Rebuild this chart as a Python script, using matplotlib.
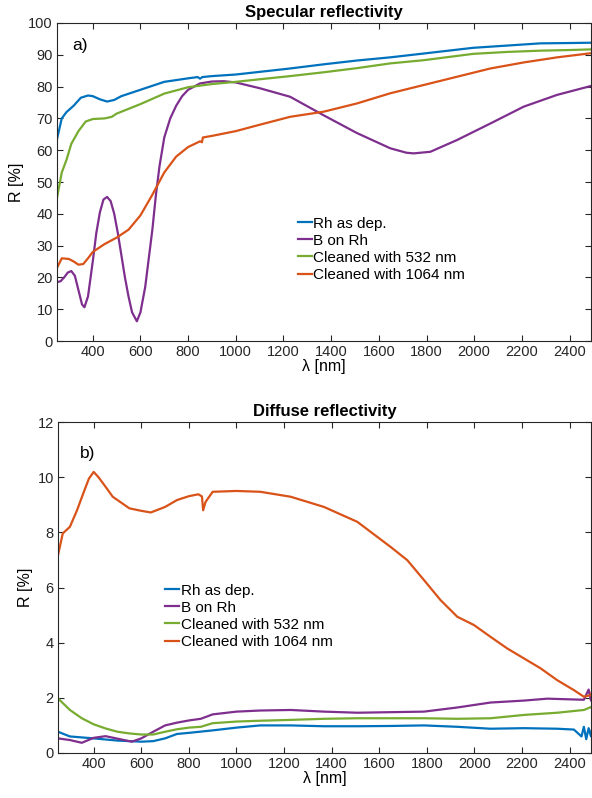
import numpy as np
import matplotlib.pyplot as plt

plt.rcParams['font.family'] = ['Liberation Sans', 'DejaVu Sans']

# MATLAB default colours
C_RH = '#0072BD'
C_B = '#7E2F8E'
C_532 = '#77AC30'
C_1064 = '#D95319'

labels = ["Rh as dep.", "B on Rh", "Cleaned with 532 nm", "Cleaned with 1064 nm"]

# --- specular reflectivity (%) ---
spec_rh_wl = [250, 270, 290, 320, 350, 380, 400, 430, 460, 490, 520, 600, 700, 800,
              840, 850, 860, 900, 1000, 1228, 1368, 1508, 1648, 1788, 1996, 2138, 2278, 2400, 2490]
spec_rh = [63.5, 70, 72, 74, 76.5, 77.2, 77, 76, 75.3, 75.8, 77, 79, 81.5, 82.6,
           83, 82.5, 83, 83.3, 83.8, 85.7, 87, 88.2, 89.2, 90.4, 92.2, 92.9, 93.6, 93.7, 93.8]

spec_b_wl = [250, 265, 280, 295, 310, 325, 340, 355, 365, 380, 400, 415, 430, 445, 460, 475,
             490, 505, 520, 535, 550, 565, 585, 600, 620, 635, 650, 665, 680, 700, 725, 750,
             775, 800, 850, 900, 950, 1000, 1100, 1228, 1368, 1508, 1648, 1716, 1746, 1816,
             1928, 2068, 2208, 2348, 2490]
spec_b = [18.5, 18.8, 20, 21.5, 22, 20.5, 16, 11.5, 10.6, 14, 25, 34, 40.5, 44.5, 45.3, 44,
          40, 34, 27, 20, 14, 9, 6.2, 9, 17, 26, 35, 46, 55, 64, 70, 74,
          77, 79, 81, 81.6, 81.7, 81.3, 79.5, 76.8, 71, 65.4, 60.6, 59.2, 59, 59.5,
          63.2, 68.4, 73.7, 77.4, 80.2]

spec_532_wl = [250, 270, 290, 310, 340, 370, 400, 450, 480, 500, 600, 700, 800, 900,
               1000, 1100, 1228, 1368, 1508, 1648, 1788, 1996, 2138, 2278, 2400, 2490]
spec_532 = [45, 53, 57, 62, 66, 69, 69.8, 70, 70.5, 71.5, 74.5, 77.8, 79.8, 80.8,
            81.5, 82.3, 83.3, 84.5, 85.8, 87.3, 88.3, 90.3, 90.9, 91.3, 91.5, 91.7]

spec_1064_wl = [250, 270, 300, 320, 340, 360, 380, 400, 450, 500, 550, 600, 650, 700,
                750, 800, 850, 858, 862, 900, 1000, 1100, 1228, 1368, 1508, 1648, 1788,
                1928, 2068, 2208, 2348, 2490]
spec_1064 = [23, 26, 25.8, 25, 24, 24.2, 26, 28, 30.5, 32.5, 35, 39.5, 46, 53,
             58, 61, 62.8, 62.5, 64, 64.5, 66, 68, 70.5, 72.1, 74.7, 77.9, 80.5,
             83.1, 85.7, 87.6, 89.2, 90.5]

# --- diffuse reflectivity (%) ---
dif_rh_wl = [250, 300, 400, 500, 600, 650, 700, 750, 800, 900, 1000, 1100, 1228, 1368,
             1508, 1648, 1788, 1928, 2068, 2208, 2348, 2418, 2450, 2460, 2470, 2480, 2490, 2500]
dif_rh = [0.77, 0.6, 0.53, 0.45, 0.41, 0.43, 0.53, 0.69, 0.73, 0.82, 0.92, 1.0, 1.0, 0.97,
          0.97, 0.98, 1.0, 0.95, 0.88, 0.9, 0.88, 0.85, 0.6, 0.95, 0.5, 0.9, 0.6, 1.2]

dif_b_wl = [250, 300, 350, 400, 450, 500, 560, 600, 650, 700, 750, 800, 850, 900, 1000,
            1100, 1228, 1368, 1508, 1648, 1788, 1928, 2068, 2208, 2306, 2460, 2480, 2490, 2500]
dif_b = [0.53, 0.47, 0.37, 0.55, 0.61, 0.52, 0.41, 0.53, 0.77, 1.0, 1.1, 1.18, 1.24, 1.4, 1.5,
         1.54, 1.56, 1.5, 1.46, 1.48, 1.5, 1.65, 1.83, 1.9, 1.97, 1.93, 2.3, 1.9, 2.4]

dif_532_wl = [250, 300, 350, 400, 450, 500, 550, 600, 650, 700, 750, 800, 850, 900, 1000,
              1100, 1228, 1368, 1508, 1648, 1788, 1928, 2068, 2208, 2348, 2460, 2500]
dif_532 = [1.98, 1.56, 1.26, 1.04, 0.89, 0.77, 0.71, 0.67, 0.67, 0.77, 0.86, 0.92, 0.95, 1.08, 1.14,
           1.17, 1.2, 1.24, 1.26, 1.26, 1.26, 1.24, 1.26, 1.38, 1.46, 1.56, 1.7]

dif_1064_wl = [250, 270, 300, 330, 360, 380, 400, 420, 450, 480, 500, 520, 550, 600, 640,
               700, 750, 800, 840, 855, 860, 870, 900, 1000, 1100, 1228, 1368, 1508, 1648,
               1718, 1788, 1858, 1928, 1998, 2068, 2138, 2208, 2278, 2348, 2418, 2460, 2490, 2500]
dif_1064 = [7.17, 7.96, 8.2, 8.8, 9.5, 9.95, 10.19, 10.0, 9.65, 9.29, 9.17, 9.05, 8.87, 8.78, 8.72,
            8.92, 9.17, 9.31, 9.38, 9.3, 8.8, 9.1, 9.47, 9.5, 9.47, 9.29, 8.92, 8.38, 7.47,
            6.99, 6.27, 5.54, 4.94, 4.64, 4.21, 3.79, 3.43, 3.07, 2.64, 2.28, 2.04, 2.1, 2.4]

fig = plt.figure(figsize=(5.92, 7.98), dpi=100)
ax1 = fig.add_axes([57 / 592, 1 - 341 / 798, 534 / 592, 318 / 798])
ax2 = fig.add_axes([58 / 592, 1 - 753 / 798, 533 / 592, 331 / 798])

lw = 1.6
ax1.plot(spec_rh_wl, spec_rh, color=C_RH, lw=lw, label=labels[0])
ax1.plot(spec_b_wl, spec_b, color=C_B, lw=lw, label=labels[1])
ax1.plot(spec_532_wl, spec_532, color=C_532, lw=lw, label=labels[2])
ax1.plot(spec_1064_wl, spec_1064, color=C_1064, lw=lw, label=labels[3])

ax2.plot(dif_rh_wl, dif_rh, color=C_RH, lw=lw, label=labels[0])
ax2.plot(dif_b_wl, dif_b, color=C_B, lw=lw, label=labels[1])
ax2.plot(dif_532_wl, dif_532, color=C_532, lw=lw, label=labels[2])
ax2.plot(dif_1064_wl, dif_1064, color=C_1064, lw=lw, label=labels[3])

for ax, ymax, ystep in [(ax1, 100, 10), (ax2, 12, 2)]:
    ax.set_xlim(250, 2490)
    ax.set_ylim(0, ymax)
    ax.set_xticks(np.arange(400, 2401, 200))
    ax.set_yticks(np.arange(0, ymax + 1, ystep))
    ax.tick_params(direction='in', top=True, right=True, length=4, width=0.8,
                   labelsize=10.5, colors='#262626', pad=3)
    for s in ax.spines.values():
        s.set_linewidth(0.8)
        s.set_color('#262626')
    ax.set_xlabel("λ [nm]", fontsize=11.5, labelpad=0)
    ax.set_ylabel("R [%]", fontsize=11.5, labelpad=3)
    ax.legend(loc='upper left', bbox_to_anchor=(0.44, 0.41) if ax is ax1 else (0.19, 0.53),
              frameon=False, fontsize=11, handlelength=0.9, handletextpad=0.1,
              labelspacing=0.2, borderaxespad=0)

ax1.set_title("Specular reflectivity", fontsize=12, fontweight='bold', pad=4)
ax2.set_title("Diffuse reflectivity", fontsize=12, fontweight='bold', pad=4)
ax1.text(0.028, 0.915, "a)", transform=ax1.transAxes, fontsize=12.5)
ax2.text(0.042, 0.89, "b)", transform=ax2.transAxes, fontsize=12.5)

fig.savefig("out.png", dpi=100)
